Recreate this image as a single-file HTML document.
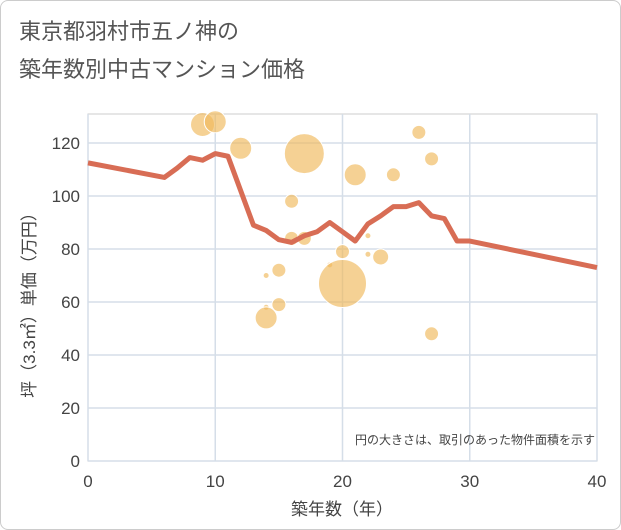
<!DOCTYPE html>
<html><head><meta charset="utf-8"><style>
body{margin:0;background:#fff;font-family:"Liberation Sans","Noto Sans CJK JP",sans-serif}
#wrap{position:relative;width:619px;height:528px;border:1px solid #ccc;border-radius:8px;overflow:hidden}
</style></head><body>
<div id="wrap">
<svg id="chart" width="621" height="530" font-family="'Liberation Sans','Noto Sans CJK JP',sans-serif">
<text x="18" y="38" font-size="22" fill="#555">東京都羽村市五ノ神の</text>
<text x="18" y="76" font-size="22" fill="#555">築年数別中古マンション価格</text>
<g id="grid"></g><g id="bubbles"></g><g id="line"></g><g id="axes"></g>
<text x="594" y="443" font-size="12" fill="#444" text-anchor="end">円の大きさは、取引のあった物件面積を示す</text>
<text x="341" y="514" font-size="17" fill="#444" text-anchor="middle">築年数（年）</text>
<text transform="translate(34,300) rotate(-90)" font-size="17" fill="#444" text-anchor="middle">坪（3.3㎡）単価（万円）</text>
</svg></div>
<script>
const xTicks=[0,10,20,30,40];
const yTicks=[0,20,40,60,80,100,120];
const bubbleYears=[9,10,12,17,21,24,26,27,16,16,17,22,20,22,23,19,14,15,20,15,14,14,27];
const bubblePrices=[127,128,118,116,108,108,124,114,98,84,84,85,79,78,77,74,70,72,67,59,58,54,48];
const bubbleSizes=[12,11,11,20,11,7,7,7,7,7,7,3,7,3,8,3,3,7,24,7,3,11,7];
const lineYears=[0,6,7,8,9,10,11,13,14,15,16,17,18,19,20,21,22,23,24,25,26,27,28,29,30,40];
const linePrices=[112.5,107,110.5,114.5,113.5,116,115,89,87,83.5,82.5,85,86.5,90,86.5,83,89.5,92.5,96,96,97.5,92.5,91.5,83,83,73];
const X0=87,X1=596,Y0=460,YT=113;
const xs=v=>X0+(v-0)/(40-0)*(X1-X0);
const ys=v=>Y0-v/120*(Y0-142);
const NS="http://www.w3.org/2000/svg";
function mk(t,a,p){const e=document.createElementNS(NS,t);for(const k in a)e.setAttribute(k,a[k]);p.appendChild(e);return e;}
const grid=document.getElementById('grid'),axes=document.getElementById('axes');
mk('rect',{x:X0,y:YT,width:X1-X0,height:Y0-YT,fill:'none',stroke:'#ccc'},grid);
yTicks.forEach(v=>{const l=mk('line',{x1:X0,x2:X1,y1:ys(v),y2:ys(v),stroke:'#d5dee8','stroke-width':1.5},grid);


const t=mk('text',{x:X0-8,y:ys(v)+6,'font-size':17,fill:'#444','text-anchor':'end'},axes);t.textContent=v;

});
xTicks.forEach(v=>{const l=mk('line',{x1:xs(v),x2:xs(v),y1:YT,y2:Y0,stroke:'#d5dee8','stroke-width':1.5},grid);


const t=mk('text',{x:xs(v),y:Y0+26,'font-size':17,fill:'#444','text-anchor':'middle'},axes);t.textContent=v;

});
const b=document.getElementById('bubbles');
bubbleYears.forEach((yr,i)=>{const c=mk('circle',{cx:xs(yr),cy:ys(bubblePrices[i]),r:bubbleSizes[i],fill:'rgba(240,185,90,0.65)',stroke:'#fff','stroke-width':1},b);

});
const pl=mk('polyline',{points:lineYears.map((y,i)=>xs(y)+','+ys(linePrices[i])).join(' '),fill:'none',stroke:'#d86d55','stroke-width':5,'stroke-linejoin':'round'},document.getElementById('line'));


</script></body></html>
